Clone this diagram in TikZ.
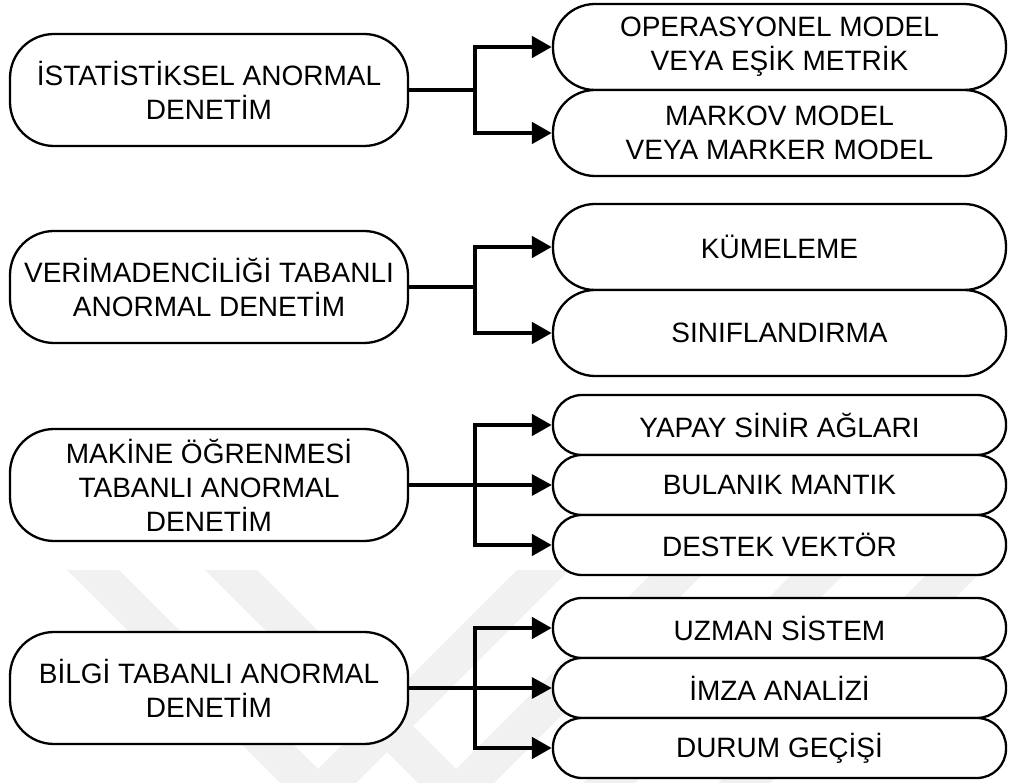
\documentclass[tikz,border=0pt]{standalone}
\usepackage{fontspec}
\setmainfont{Liberation Sans}
\usetikzlibrary{arrows.meta}
\definecolor{wmgray}{HTML}{F1F1F1}
\begin{document}
\begin{tikzpicture}[x=1pt,y=-1pt,
  every node/.style={font=\fontsize{28pt}{34pt}\selectfont, align=center, inner sep=0pt},
  mainbox/.style={draw, line width=2.3pt, fill=white, rounded corners=44pt,
                  minimum width=398pt, minimum height=112pt},
  subbox/.style={draw, line width=2.3pt, fill=white, rounded corners=42pt,
                 minimum width=453pt, minimum height=86pt},
  thinbox/.style={subbox, rounded corners=29pt, minimum height=60pt},
  feed/.style={line width=3.3pt},
  branch/.style={line width=4.7pt},
  tipend/.style={-{Triangle[length=20pt,width=21pt]}},
  tipboth/.style={{Triangle[length=20pt,width=21pt]}-{Triangle[length=20pt,width=21pt]}},
  wmark/.style={fill=wmgray, draw=none}
]
\useasboundingbox (0,0) rectangle (1010,783);

% faint chevron background
\begin{scope}
  \clip (0,0) rectangle (1010,783);
  \fill[wmark] (67,570) -- (119,570) -- (318,769) -- (517,570) -- (569,570) -- (318,821) -- cycle;
  \fill[wmark] (205,570) -- (257,570) -- (456,769) -- (655,570) -- (707,570) -- (456,821) -- cycle;
  \fill[wmark] (796,570) -- (848,570) -- (635,783) -- (583,783) -- cycle;
  \fill[wmark] (931,570) -- (983,570) -- (770,783) -- (718,783) -- cycle;
\end{scope}

% group 1
\node[mainbox] (s1) at (209,90) {İSTATİSTİKSEL ANORMAL\\DENETİM};
\node[subbox] (s1a) at (779.5,47) {OPERASYONEL MODEL\\VEYA EŞİK METRİK};
\node[subbox] (s1b) at (779.5,133) {MARKOV MODEL\\VEYA MARKER MODEL};
\coordinate (k1) at (475,90);
\draw[feed] (s1.east) -- (k1);
\draw[branch, tipboth] (s1a.west) -- (s1a.west -| k1) -- (s1b.west -| k1) -- (s1b.west);

% group 2
\node[mainbox] (s2) at (209,287) {VERİMADENCİLİĞİ TABANLI\\ANORMAL DENETİM};
\node[subbox] (s2a) at (779.5,247) {KÜMELEME};
\node[subbox] (s2b) at (779.5,333) {SINIFLANDIRMA};
\coordinate (k2) at (475,287);
\draw[feed] (s2.east) -- (k2);
\draw[branch, tipboth] (s2a.west) -- (s2a.west -| k2) -- (s2b.west -| k2) -- (s2b.west);

% group 3
\node[mainbox] (s3) at (209,485) {MAKİNE ÖĞRENMESİ\\TABANLI ANORMAL\\DENETİM};
\node[thinbox] (s3a) at (779.5,425) {YAPAY SİNİR AĞLARI};
\node[thinbox] (s3b) at (779.5,485) {BULANIK MANTIK};
\node[thinbox] (s3c) at (779.5,545) {DESTEK VEKTÖR};
\coordinate (k3) at (475,485);
\draw[feed, tipend] (s3.east) -- (s3b.west);
\draw[branch, tipboth] (s3a.west) -- (s3a.west -| k3) -- (s3c.west -| k3) -- (s3c.west);

% group 4
\node[mainbox] (s4) at (209,688) {BİLGİ TABANLI ANORMAL\\DENETİM};
\node[thinbox] (s4a) at (779.5,628) {UZMAN SİSTEM};
\node[thinbox] (s4b) at (779.5,688) {İMZA ANALİZİ};
\node[thinbox] (s4c) at (779.5,748) {DURUM GEÇİŞİ};
\coordinate (k4) at (475,688);
\draw[feed, tipend] (s4.east) -- (s4b.west);
\draw[branch, tipboth] (s4a.west) -- (s4a.west -| k4) -- (s4c.west -| k4) -- (s4c.west);
\end{tikzpicture}
\end{document}
